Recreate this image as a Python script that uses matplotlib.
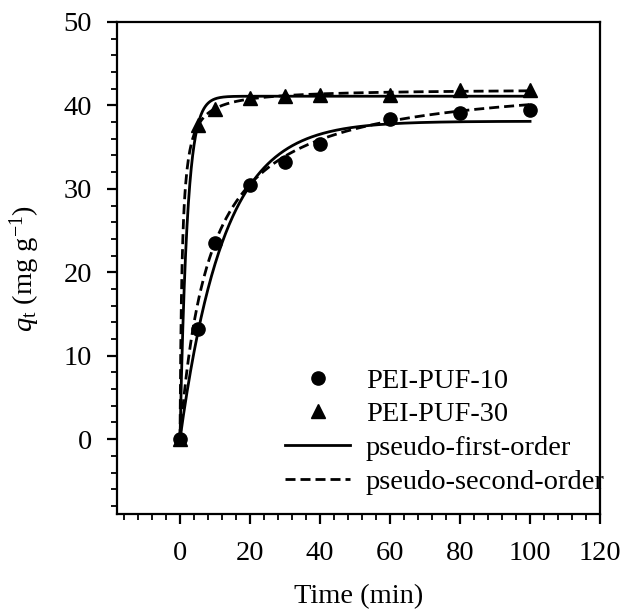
import numpy as np
import matplotlib
matplotlib.use('Agg')
import matplotlib.pyplot as plt
from matplotlib.ticker import MultipleLocator

plt.rcParams['font.family'] = ['Liberation Serif', 'DejaVu Serif']
plt.rcParams['mathtext.fontset'] = 'custom'
plt.rcParams['mathtext.rm'] = 'Liberation Serif'
plt.rcParams['mathtext.it'] = 'Liberation Serif:italic'

# measured data
t10 = [0, 5, 10, 20, 30, 40, 60, 80, 100]
q10 = [0, 13.2, 23.5, 30.4, 33.2, 35.4, 38.4, 39.1, 39.4]
t30 = [0, 5, 10, 20, 30, 40, 60, 80, 100]
q30 = [0, 37.6, 39.6, 40.9, 41.1, 41.2, 41.3, 41.8, 41.8]

# fitted kinetic parameters (qe, k)
pfo10 = (38.1, 0.08)
pso10 = (43.5, 0.00271)
pfo30 = (41.1, 0.486)
pso30 = (42.0, 0.0395)

def pfo(t, qe, k):
    return qe * (1 - np.exp(-k * t))

def pso(t, qe, k):
    return qe**2 * k * t / (1 + qe * k * t)

tt = np.linspace(0, 100, 500)
LW = 2.0
DASH = (0, (3.6, 1.8))
FS = 20.5

fig = plt.figure(figsize=(6.29, 6.10), dpi=100)
ax = fig.add_axes([0.186, 0.157, 0.768, 0.807])

ax.plot(tt, pfo(tt, *pfo10), 'k-', lw=LW)
ax.plot(tt, pfo(tt, *pfo30), 'k-', lw=LW)
ax.plot(tt, pso(tt, *pso10), 'k', lw=LW, ls=DASH)
ax.plot(tt, pso(tt, *pso30), 'k', lw=LW, ls=DASH)
ax.plot(t10, q10, 'ko', ms=9.5, ls='none')
ax.plot(t30, q30, 'k^', ms=9.5, ls='none')

# legend handles
h1, = ax.plot([], [], 'ko', ms=9.5, ls='none', label='PEI-PUF-10')
h2, = ax.plot([], [], 'k^', ms=9.5, ls='none', label='PEI-PUF-30')
h3, = ax.plot([], [], 'k-', lw=LW, label='pseudo-first-order')
h4, = ax.plot([], [], 'k', lw=LW, ls=DASH, label='pseudo-second-order')
ax.legend(handles=[h1, h2, h3, h4], frameon=False, fontsize=FS,
          loc='lower right', bbox_to_anchor=(1.01, 0.04),
          handlelength=2.3, handletextpad=0.55, labelspacing=0.27,
          borderpad=0, borderaxespad=0)

ax.set_xlim(-18, 120)
ax.set_ylim(-9, 50)
ax.xaxis.set_minor_locator(MultipleLocator(4))
ax.yaxis.set_minor_locator(MultipleLocator(2))
ax.set_xticks([0, 20, 40, 60, 80, 100, 120])
ax.set_yticks([0, 10, 20, 30, 40, 50])

for s in ax.spines.values():
    s.set_linewidth(1.6)
ax.tick_params(which='major', direction='out', length=7, width=1.6, labelsize=FS)
ax.tick_params(which='minor', direction='out', length=4, width=1.3)
ax.tick_params(axis='x', pad=12)
ax.tick_params(axis='y', pad=11)

ax.set_xlabel('Time (min)', fontsize=FS)
ax.xaxis.set_label_coords(0.5, -0.142)
ax.set_ylabel(r'$q_{\mathrm{t}}$ (mg g$^{\mathrm{-1}}$)', fontsize=FS)
ax.yaxis.set_label_coords(-0.155, 0.5)

fig.savefig('out.png', dpi=100)
